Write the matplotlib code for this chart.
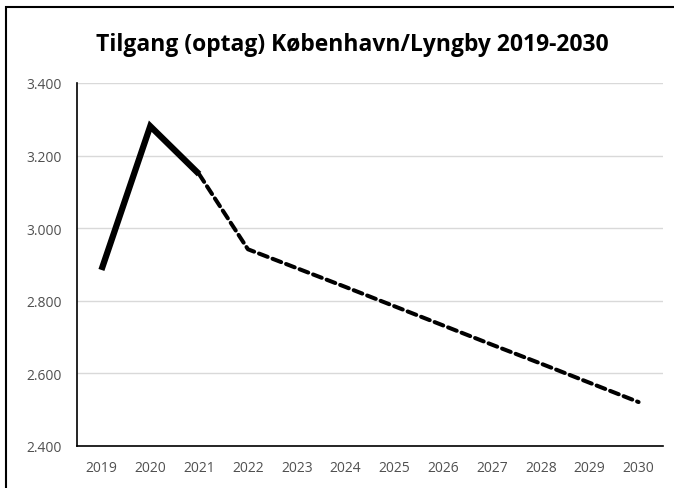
import matplotlib
matplotlib.use("Agg")
import matplotlib.pyplot as plt
from matplotlib.patches import Rectangle

years = ["2019", "2020", "2021", "2022", "2023", "2024", "2025", "2026", "2027", "2028", "2029", "2030"]
actual = [2885, 3281, 3149]
forecast = [3149, 2942, 2890, 2838, 2785, 2732, 2679, 2627, 2574, 2521]
yticks = [2400, 2600, 2800, 3000, 3200, 3400]
ytick_labels = ["2.400", "2.600", "2.800", "3.000", "3.200", "3.400"]
title = "Tilgang (optag) København/Lyngby 2019-2030"

plt.rcParams['font.family'] = ['Open Sans', 'DejaVu Sans']

W, H = 674, 489
fig = plt.figure(figsize=(W / 100, H / 100), dpi=100)
ax = fig.add_axes([77 / W, 1 - 447 / H, (663 - 77) / W, (447 - 84) / H])

x = list(range(len(years)))
ax.plot(x[:3], actual, color="black", lw=4.5, solid_capstyle="butt", solid_joinstyle="miter")
ax.plot(x[2:], forecast, color="black", lw=2.9, linestyle=(0, (2.3, 1.3)), dash_capstyle="round")

ax.set_xlim(-0.5, len(years) - 0.5)
ax.set_ylim(2400, 3400)
ax.set_yticks(yticks)
ax.set_yticklabels(ytick_labels)
ax.set_xticks(x)
ax.set_xticklabels(years)
ax.grid(axis="y", color="#d9d9d9", lw=1)
ax.set_axisbelow(True)
for s in ["top", "right"]:
    ax.spines[s].set_visible(False)
for s in ["left", "bottom"]:
    ax.spines[s].set_color("black")
    ax.spines[s].set_linewidth(1.2)
ax.tick_params(axis="both", length=0, labelsize=10, colors="#505050")
ax.tick_params(axis="x", pad=10)
ax.tick_params(axis="y", pad=11)

fig.text(0.5 * (92 + 612) / W, 1 - 45 / H, title, ha="center", va="center",
         fontsize=16.5, fontweight="bold", color="black")

# outer frame: only its left and top edges fall inside the picture
fig.patches.append(Rectangle((5.5 / W, -0.1), 1.2, 1.1 - 7.5 / H,
                             transform=fig.transFigure, fill=False, edgecolor="black", lw=1.5))

fig.savefig("out.png", dpi=100)
